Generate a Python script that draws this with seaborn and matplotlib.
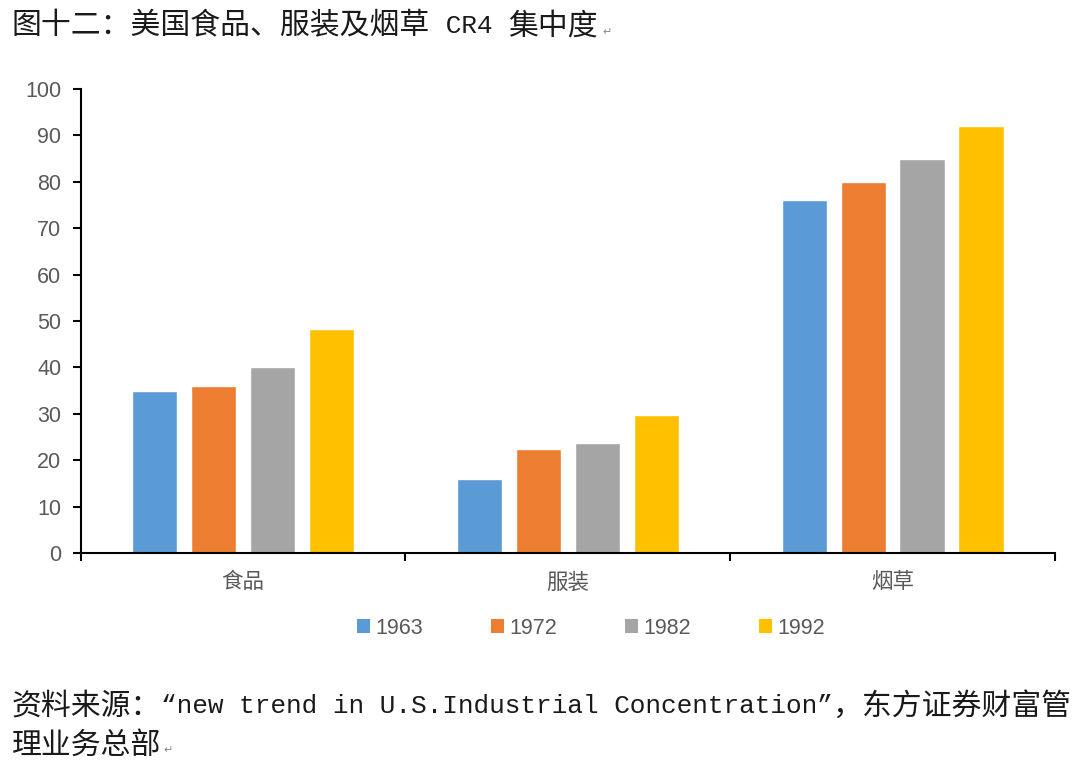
import matplotlib
matplotlib.use("Agg")
import matplotlib.pyplot as plt
import seaborn as sns
import pandas as pd
from matplotlib.patches import Patch

categories = ["食品", "服装", "烟草"]
years = ["1963", "1972", "1982", "1992"]
v1963 = [35, 16, 76]
v1972 = [36, 22.3, 80]
v1982 = [40, 23.7, 85]
v1992 = [48.2, 29.8, 92]
colors = ["#5B9BD5", "#ED7D31", "#A5A5A5", "#FFC000"]

title_parts = ["图十二：美国食品、服装及烟草", " CR4 ", "集中度"]
source_parts = ["资料来源：", "“new trend in U.S.Industrial Concentration”", "，东方证券财富管"]
source_line2 = "理业务总部"

series = {"1963": v1963, "1972": v1972, "1982": v1982, "1992": v1992}
rows = []
for y in years:
    for c, v in zip(categories, series[y]):
        rows.append({"cat": c, "year": y, "value": v})
df = pd.DataFrame(rows)

sns.set_theme(style="white")
plt.rcParams["font.family"] = ["Liberation Sans", "Noto Sans CJK SC", "DejaVu Sans"]

fig = plt.figure(figsize=(10.8, 7.68), dpi=100)
ax = fig.add_axes([0.0747, 0.280, 0.9022, 0.6041])

sns.barplot(data=df, x="cat", y="value", hue="year", hue_order=years,
            order=categories, palette=colors, width=0.725, gap=0.23,
            saturation=1, ax=ax, legend=False)

ax.set_xlim(-0.5, 2.5)
ax.set_ylim(0, 100)
ax.set_yticks(range(0, 101, 10))
ax.set_xlabel("")
ax.set_ylabel("")

for s in ["top", "right"]:
    ax.spines[s].set_visible(False)
for s in ["left", "bottom"]:
    ax.spines[s].set_color("black")
    ax.spines[s].set_linewidth(1.5)

ax.set_xticks([0, 1, 2])
ax.set_xticklabels(categories)
ax.set_xticks([-0.5, 0.5, 1.5, 2.5], minor=True)
ax.tick_params(axis="x", which="major", length=0, pad=14, labelsize=15.5,
               labelcolor="#595959")
ax.tick_params(axis="x", which="minor", length=6, width=1.5, color="black",
               direction="out", bottom=True)
ax.tick_params(axis="y", which="major", length=6, width=1.5, color="black",
               direction="out", left=True, pad=8, labelsize=15.5,
               labelcolor="#595959")

handles = [Patch(facecolor=c, edgecolor="none") for c in colors]
fig.legend(handles, years, loc="center", bbox_to_anchor=(591 / 1080, 1 - 628 / 768),
           ncol=4, frameon=False, fontsize=15.5, handlelength=0.6, handleheight=0.6,
           handletextpad=0.25, columnspacing=3.15, labelcolor="#595959")

cjk = ["Noto Sans CJK SC", "DejaVu Sans"]
mono = ["Liberation Mono", "Noto Sans CJK SC", "DejaVu Sans"]
renderer = fig.canvas.get_renderer()
W = fig.get_size_inches()[0] * fig.dpi


def seq_text(x_px, y_px, parts):
    for s, fam, size in parts:
        t = fig.text(x_px / W, 1 - y_px / 768, s, family=fam, fontsize=size,
                     color="#1a1a1a", va="center", ha="left")
        bb = t.get_window_extent(renderer)
        x_px = bb.x1
    return x_px


end = seq_text(12, 26, [(title_parts[0], cjk, 21.5), (title_parts[1], mono, 18.8),
                        (title_parts[2], cjk, 21.5)])
fig.text((end + 4) / W, 1 - 32 / 768, "↵", family=["DejaVu Sans"], fontsize=8,
         color="#888888", va="center", ha="left")

seq_text(12, 706, [(source_parts[0], cjk, 21.5), (source_parts[1], mono, 18.8),
                   (source_parts[2], cjk, 21.5)])
end = seq_text(12, 745, [(source_line2, cjk, 21.5)])
fig.text((end + 2) / W, 1 - 750 / 768, "↵", family=["DejaVu Sans"], fontsize=8,
         color="#888888", va="center", ha="left")

fig.savefig("out.png", dpi=100)
